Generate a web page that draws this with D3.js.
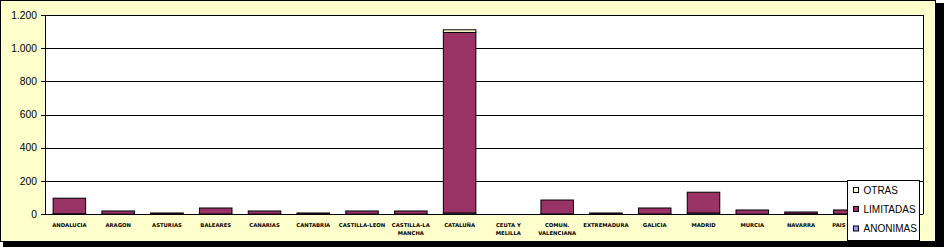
<!DOCTYPE html>
<html><head><meta charset="utf-8">
<script src="https://cdn.jsdelivr.net/npm/d3@7"></script>
<style>body{margin:0;background:#fff}svg{display:block}</style>
</head><body>
<svg id="c" width="944" height="247"></svg>
<script>
const categories = ["ANDALUCIA","ARAGON","ASTURIAS","BALEARES","CANARIAS","CANTABRIA","CASTILLA-LEON","CASTILLA-LA MANCHA","CATALUÑA","CEUTA Y MELILLA","COMUN. VALENCIANA","EXTREMADURA","GALICIA","MADRID","MURCIA","NAVARRA","PAIS VASCO","LA RIOJA"];
// label lines as drawn (last category's label is hidden behind the legend in the original)
const categoryLines = [["ANDALUCIA"],["ARAGON"],["ASTURIAS"],["BALEARES"],["CANARIAS"],["CANTABRIA"],["CASTILLA-LEON"],["CASTILLA-LA","MANCHA"],["CATALUÑA"],["CEUTA Y","MELILLA"],["COMUN.","VALENCIANA"],["EXTREMADURA"],["GALICIA"],["MADRID"],["MURCIA"],["NAVARRA"],["PAIS VASCO"],[]];
const anonimas  = [3, 1, 1, 2, 1, 1, 1, 1, 8, 0, 2, 1, 2, 8, 1, 3, 2, 1];
const limitadas = [94, 19, 7, 36, 19, 7, 19, 19, 1087, 0, 84, 7, 36, 125, 25, 11, 24, 8];
const otras     = [0, 0, 0, 0, 0, 0, 0, 0, 16, 0, 0, 0, 0, 0, 0, 0, 0, 0];
const seriesNames = ["ANONIMAS","LIMITADAS","OTRAS"];
const seriesColors = ["#9999FF","#993366","#FFFFCC"];
const yTicks = [0,200,400,600,800,1000,1200];
const yTickLabels = ["0","200","400","600","800","1.000","1.200"];

const svg = d3.select("#c");
// frame with shadow
svg.append("rect").attr("x",3).attr("y",3).attr("width",941).attr("height",244).attr("fill","#000");
svg.append("rect").attr("x",0.5).attr("y",0.5).attr("width",935).attr("height",241).attr("fill","#FFFFCC").attr("stroke","#000");

const L=45, R=923, T=15, B=214.3;
const x = d3.scaleBand().domain(categories).range([L,R]).paddingInner(1/3).paddingOuter(1/6);
const y = d3.scaleLinear().domain([0,1200]).range([B,T]);

svg.append("rect").attr("x",L).attr("y",T).attr("width",R-L).attr("height",B-T).attr("fill","#fff");

// gridlines
svg.append("g").selectAll("line").data(yTicks).join("line")
  .attr("x1",L-4).attr("x2",R).attr("y1",d=>Math.round(y(d))+0.5).attr("y2",d=>Math.round(y(d))+0.5)
  .attr("stroke","#000").attr("stroke-width",1);
svg.append("line").attr("x1",L+0.5).attr("x2",L+0.5).attr("y1",T).attr("y2",B).attr("stroke","#000");
svg.append("line").attr("x1",R+0.5).attr("x2",R+0.5).attr("y1",T).attr("y2",B).attr("stroke","#000");

// y labels
svg.append("g").selectAll("text").data(yTicks).join("text")
  .attr("x",37).attr("y",d=>y(d)+3.6).attr("text-anchor","end")
  .attr("font-family","Liberation Sans, Arial, sans-serif").attr("font-size","10.3px").attr("fill","#000")
  .text((d,i)=>yTickLabels[i]);

// stacked bars
const rows = categories.map((c,i)=>({cat:c, ANONIMAS:anonimas[i], LIMITADAS:limitadas[i], OTRAS:otras[i]}));
const stacked = d3.stack().keys(seriesNames)(rows);
stacked.forEach((s,si)=>{
  svg.append("g").selectAll("rect").data(s.filter(d=>d[1]-d[0]>0)).join("rect")
    .attr("x",d=>x(d.data.cat)).attr("width",x.bandwidth())
    .attr("y",d=>y(d[1])).attr("height",d=>y(d[0])-y(d[1]))
    .attr("fill",seriesColors[si]).attr("stroke","#000").attr("stroke-width",1);
});

// category labels
const lab = svg.append("g").attr("font-family","DejaVu Sans, sans-serif").attr("font-size","5.3px").attr("font-weight","bold").attr("fill","#000");
categories.forEach((c,i)=>{
  categoryLines[i].forEach((ln,j)=>{
    lab.append("text").attr("x",x(c)+x.bandwidth()/2).attr("y",226.5+j*8.8).attr("text-anchor","middle").text(ln);
  });
});

// legend
const lg = svg.append("g");
lg.append("rect").attr("x",847.5).attr("y",180.5).attr("width",72).attr("height",60).attr("fill","#fff").attr("stroke","#000");
const legendOrder = [2,1,0];
const rowY = [190,209,228.5];
legendOrder.forEach((si,k)=>{
  lg.append("rect").attr("x",853.5).attr("y",rowY[k]-2.5).attr("width",5).attr("height",5)
    .attr("fill",seriesColors[si]).attr("stroke","#000");
  lg.append("text").attr("x",863.5).attr("y",rowY[k]+3.7)
    .attr("font-family","Liberation Sans, Arial, sans-serif").attr("font-size","10px").attr("fill","#000")
    .text(seriesNames[si]);
});
</script>
</body></html>
